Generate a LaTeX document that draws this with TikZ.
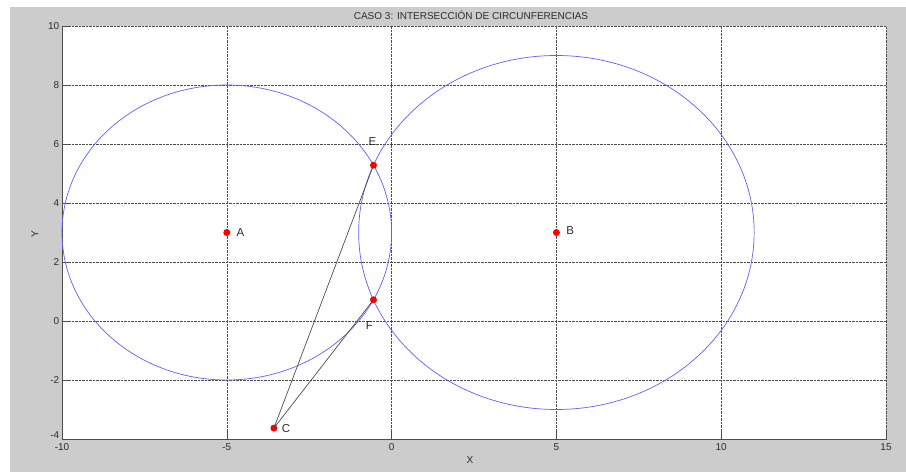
\documentclass[tikz,border=0pt]{standalone}
\usepackage{fontspec}
\setmainfont{Liberation Sans}
\usetikzlibrary{positioning}

\definecolor{figgray}{RGB}{204,204,204}
\definecolor{circblue}{RGB}{95,95,255}
\definecolor{txtgray}{RGB}{45,45,45}

\tikzset{
  grid/.style={densely dotted, thin, black!70},
  axis/.style={thin, black!70},
  circ/.style={circblue, line width=0.7pt},
  seg/.style={black!70, line width=0.7pt},
  pt/.style={circle, fill=red, inner sep=0pt, minimum size=7pt},
  lbl/.style={font=\fontsize{11.5}{13}\selectfont, text=txtgray, inner sep=1pt},
  ticklbl/.style={font=\fontsize{10}{11}\selectfont, text=txtgray, inner sep=1.5pt}
}

\begin{document}
\begin{tikzpicture}[x=1pt, y=1pt]
\useasboundingbox (0,0) rectangle (906,472);
\fill[figgray] (10,0) rectangle (906,465);

% title and axis names
\node[ticklbl] (title) at (471,457) {CASO 3: INTERSECCIÓN DE CIRCUNFERENCIAS};
\node[ticklbl] (xname) at (470,12) {X};
\node[ticklbl, rotate=90] (yname) at (35,238) {Y};

\begin{scope}[shift={(391.6,151)}, x=32.96pt, y=29.5pt]
\fill[white] (-10,-4) rectangle (15,10);

% grid
\foreach \gx in {-5,0,5,10,15}
  \draw[grid] (\gx,-4) -- (\gx,10);
\foreach \gy in {-2,0,...,10}
  \draw[grid] (-10,\gy) -- (15,\gy);

% axes and ticks
\draw[axis] (-10,10) -- (-10,-4) -- (15,-4);
\foreach \gx in {-10,-5,...,15} {
  \draw[axis] (\gx,-4) -- ++(0,8pt);
  \node[ticklbl, anchor=north] at ([yshift=-3pt]\gx,-4) {\gx};
}
\foreach \gy in {-2,0,...,10} {
  \draw[axis] (-10,\gy) -- ++(8pt,0);
  \node[ticklbl, anchor=east] at ([xshift=-1pt]-10,\gy) {\gy};
}
\node[ticklbl, anchor=east] (ymin) at ([xshift=-1pt,yshift=4pt]-10,-4) {-4};

% circles
\draw[circ] (-5,3) circle[radius=5];
\draw[circ] (5,3) circle[radius=6];

% points
\node[pt] (A) at (-5,3) {};
\node[pt] (B) at (5,3) {};
\node[pt] (E) at (-0.55,5.28) {};
\node[pt] (F) at (-0.55,0.72) {};
\node[pt] (C) at (-3.57,-3.63) {};

\draw[seg] (C.center) -- (E.center);
\draw[seg] (C.center) -- (F.center);

\node[lbl, right=5pt of A] (labA) {A};
\node[lbl, right=5pt of B, yshift=1.5pt] (labB) {B};
\node[lbl, above=15pt of E, xshift=-1pt] (labE) {E};
\node[lbl, below=17pt of F, xshift=-4pt] (labF) {F};
\node[lbl, right=3pt of C] (labC) {C};
\end{scope}
\end{tikzpicture}
\end{document}
